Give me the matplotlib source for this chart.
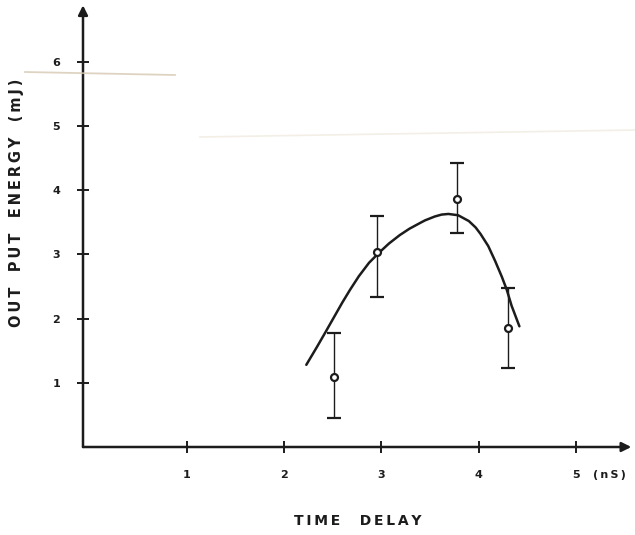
import matplotlib.pyplot as plt
import numpy as np

# measured points (time delay in nS, output energy in mJ)
delay = [2.51, 2.96, 3.78, 4.30]
energy = [1.09, 3.03, 3.87, 1.85]
err_low = [0.45, 2.33, 3.34, 1.23]
err_high = [1.77, 3.60, 4.43, 2.48]

# hand-drawn trend curve
curve_x = [2.23, 2.34, 2.42, 2.51, 2.60, 2.68, 2.77, 2.875, 2.98, 3.08,
           3.19, 3.29, 3.40, 3.45, 3.55, 3.62, 3.69, 3.79, 3.90, 3.97,
           4.02, 4.10, 4.17, 4.24, 4.29, 4.34, 4.39, 4.42]
curve_y = [1.28, 1.56, 1.77, 2.01, 2.25, 2.45, 2.66, 2.87, 3.03, 3.17,
           3.30, 3.40, 3.49, 3.53, 3.59, 3.62, 3.63, 3.61, 3.52, 3.42,
           3.32, 3.13, 2.90, 2.65, 2.45, 2.20, 2.00, 1.88]

x_ticks = [1, 2, 3, 4, 5]
y_ticks = [1, 2, 3, 4, 5, 6]

ink = "#1c1c1c"
W, H = 635, 535
x0, x1 = -0.065, 5.6
y0, y1 = 0, 6.9


def spaced(s):
    # wide lettering like the stencil text on the original
    return "\u2009".join(s)


fig = plt.figure(figsize=(W / 100, H / 100), dpi=100)
ax = fig.add_axes([83 / W, 88 / H, (x1 - x0) * 97.3 / W, (y1 - y0) * 64.2 / H])
ax.set_xlim(x0, x1)
ax.set_ylim(y0, y1)
for s in ax.spines.values():
    s.set_visible(False)

# axes drawn as arrows
arrow = dict(arrowstyle="-|>", color=ink, lw=1.8, mutation_scale=14,
             shrinkA=0, shrinkB=0)
ax.annotate("", xy=(5.57, 0), xytext=(x0, 0), arrowprops=arrow)
ax.annotate("", xy=(x0, 6.88), xytext=(x0, 0), arrowprops=arrow)

ax.set_xticks(x_ticks)
ax.set_yticks(y_ticks)
ax.tick_params(direction="inout", length=9, width=1.4, color=ink,
               labelcolor=ink, labelsize=8)
ax.tick_params(axis="x", pad=12)
ax.tick_params(axis="y", pad=12)
for lab in ax.get_xticklabels() + ax.get_yticklabels():
    lab.set_fontweight("bold")

ax.text(5.18, -0.43, spaced("(nS)"), fontsize=8, fontweight="bold",
        color=ink, ha="left", va="center")

# faint scanner marks
fig.add_artist(plt.Line2D([25 / W, 175 / W], [1 - 72 / H, 1 - 75 / H],
                          color="#d6c9b2", lw=1.3, alpha=0.8))
fig.add_artist(plt.Line2D([200 / W, 1], [1 - 137 / H, 1 - 130 / H],
                          color="#ebe4d6", lw=1.2, alpha=0.6))

# trend curve
ax.plot(curve_x, curve_y, color=ink, lw=1.8, solid_capstyle="round",
        solid_joinstyle="round")

# data with error bars
yerr = [np.array(energy) - np.array(err_low), np.array(err_high) - np.array(energy)]
ax.errorbar(delay, energy, yerr=yerr, fmt="o", mfc="white", mec=ink, mew=1.6,
            ms=5, ecolor=ink, elinewidth=1.0, capsize=5, capthick=1.2)

ylab = "   ".join(spaced(w) for w in ["OUT", "PUT", "ENERGY", "(mJ)"])
fig.text(17 / W, 1 - 203 / H, ylab, rotation=90, fontsize=10.5,
         fontweight="bold", color=ink, ha="center", va="center")
xlab = "    ".join(spaced(w) for w in ["TIME", "DELAY"])
fig.text(358 / W, 1 - 521 / H, xlab, fontsize=10, fontweight="bold",
         color=ink, ha="center", va="center")

fig.savefig("out.png", dpi=100)
